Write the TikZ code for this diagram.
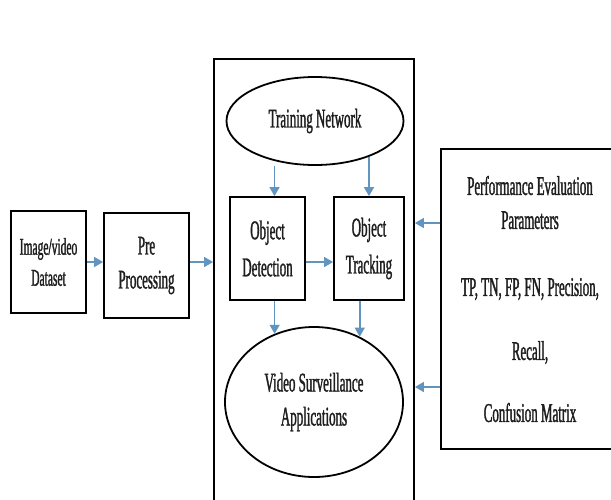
\documentclass[tikz,border=0pt]{standalone}
\usepackage{fontspec}
\newfontfamily\narrowserif[FakeStretch=0.48,FakeBold=1.2]{Liberation Serif}
\usetikzlibrary{shapes.geometric,arrows.meta}
\definecolor{flowblue}{RGB}{98,148,192}
\definecolor{inkgray}{RGB}{30,30,30}
\tikzset{
	box/.style={draw, line width=1.8pt, inner sep=0pt, align=center, text=inkgray,
		font=\narrowserif\fontsize{27}{34}\selectfont},
	oval/.style={box, ellipse},
	flow/.style={draw=flowblue, line width=1.5pt, -{Triangle[length=9pt,width=10pt]}}
}
\begin{document}
\begin{tikzpicture}[x=1pt, y=-1pt]
		\useasboundingbox (0,0) rectangle (611,499);
		\clip (0,0) rectangle (611,499);
		\node[box, minimum width=75pt, minimum height=102pt,
			font=\narrowserif\fontsize{24}{31}\selectfont] (data) at (48.5,262)
			{Image/video\\Dataset};
		\node[box, minimum width=85pt, minimum height=105pt] (pre) at (146.5,265.5)
			{Pre\\Processing};
		\node[draw, line width=1.8pt, minimum width=200pt, minimum height=500pt] (frame) at (314,309) {};
		\node[oval, minimum width=177pt, minimum height=88pt] (train) at (315,121)
			{Training Network};
		\node[box, minimum width=75pt, minimum height=103pt] (det) at (267.5,248.5)
			{Object\\[3pt]Detection};
		\node[box, minimum width=70pt, minimum height=103pt] (trk) at (369,248.5)
			{Object\\[3pt]Tracking};
		\node[oval, minimum width=178pt, minimum height=150pt] (app) at (314,402)
			{Video Surveillance\\Applications};
		\node[box, minimum width=178pt, minimum height=300pt] (perf) at (530,299)
			{Performance Evaluation\\Parameters\\[33pt]TP, TN, FP, FN, Precision,\\[30pt]Recall,\\[28pt]Confusion Matrix};
		\draw[flow] (data.east) -- (data.east -| pre.west);
		\draw[flow] ([yshift=3.5pt]pre.east) -- ([yshift=3.5pt]pre.east -| frame.west);
		\draw[flow] ([xshift=7pt]det.north |- train.south) -- ([xshift=7pt]det.north);
		\draw[flow] (trk.north |- train.-35) -- (trk.north);
		\draw[flow] ([yshift=-13.5pt]det.east) -- ([yshift=-13.5pt]det.east -| trk.west);
		\draw[flow] (app.120 |- det.south) -- (app.120);
		\draw[flow] (app.55 |- trk.south) -- (app.55);
		\draw[flow] ([yshift=76pt]perf.west) -- ([yshift=76pt]perf.west -| frame.east);
		\draw[flow] ([yshift=-88pt]perf.west) -- ([yshift=-88pt]perf.west -| frame.east);
\end{tikzpicture}
\end{document}
